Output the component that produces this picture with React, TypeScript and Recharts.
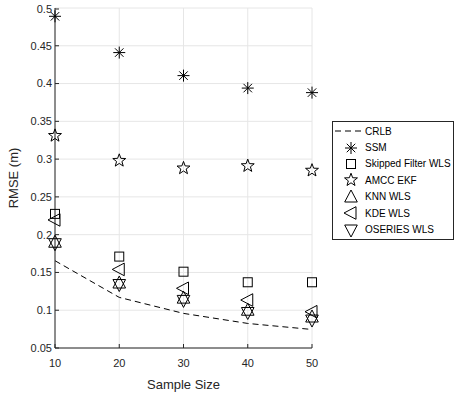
import React from 'react';
import { ComposedChart, Line, Scatter, XAxis, YAxis, CartesianGrid, Legend } from 'recharts';

const sampleSizes = [10, 20, 30, 40, 50];
const crlb = [0.1655, 0.117, 0.0958, 0.0825, 0.0745];
const ssm = [0.489, 0.441, 0.4105, 0.394, 0.388];
const skippedFilterWls = [0.2275, 0.171, 0.151, 0.137, 0.137];
const amccEkf = [0.331, 0.298, 0.288, 0.291, 0.285];
const knnWls = [0.19, 0.136, 0.116, 0.1, 0.091];
const kdeWls = [0.2195, 0.154, 0.129, 0.1135, 0.098];
const oseriesWls = [0.188, 0.134, 0.113, 0.097, 0.087];

const xTicks = [10, 20, 30, 40, 50];
const yTicks = [0.05, 0.1, 0.15, 0.2, 0.25, 0.3, 0.35, 0.4, 0.45, 0.5];

const INK = '#262626';
const FONT = '"Liberation Sans", Arial, Helvetica, sans-serif';

const rows = sampleSizes.map((x, i) => ({
    x,
    crlb: crlb[i],
    ssm: ssm[i],
    skipped: skippedFilterWls[i],
    amcc: amccEkf[i],
    knn: knnWls[i],
    kde: kdeWls[i],
    oseries: oseriesWls[i],
}));

type MarkerKind = 'asterisk' | 'square' | 'star' | 'up' | 'left' | 'down';

const drawMarker = (kind: MarkerKind, cx: number, cy: number) => {
    const common = { fill: 'none', stroke: '#000', strokeWidth: 1 };
    if (kind === 'asterisk') {
        const r = 6;
        const d = r * 0.707;
        return (
            <g stroke="#000" strokeWidth={1}>
                <line x1={cx - r} y1={cy} x2={cx + r} y2={cy} />
                <line x1={cx} y1={cy - r} x2={cx} y2={cy + r} />
                <line x1={cx - d} y1={cy - d} x2={cx + d} y2={cy + d} />
                <line x1={cx - d} y1={cy + d} x2={cx + d} y2={cy - d} />
            </g>
        );
    }
    if (kind === 'square') {
        return <rect x={cx - 4.5} y={cy - 4.5} width={9} height={9} {...common} />;
    }
    if (kind === 'star') {
        const pts: string[] = [];
        for (let k = 0; k < 10; k++) {
            const r = k % 2 === 0 ? 6.8 : 2.8;
            const a = -Math.PI / 2 + (k * Math.PI) / 5;
            pts.push(`${cx + r * Math.cos(a)},${cy + r * Math.sin(a)}`);
        }
        return <polygon points={pts.join(' ')} {...common} />;
    }
    if (kind === 'up') {
        return <polygon points={`${cx},${cy - 7} ${cx - 6.3},${cy + 5} ${cx + 6.3},${cy + 5}`} {...common} />;
    }
    if (kind === 'down') {
        return <polygon points={`${cx},${cy + 7} ${cx - 6.3},${cy - 5} ${cx + 6.3},${cy - 5}`} {...common} />;
    }
    return <polygon points={`${cx - 7},${cy} ${cx + 5},${cy - 6.3} ${cx + 5},${cy + 6.3}`} {...common} />;
};

const markerShape = (kind: MarkerKind) => (props: any) => drawMarker(kind, props.cx, props.cy);

const legendItems: { label: string; kind: MarkerKind | 'line' }[] = [
    { label: 'CRLB', kind: 'line' },
    { label: 'SSM', kind: 'asterisk' },
    { label: 'Skipped Filter WLS', kind: 'square' },
    { label: 'AMCC EKF', kind: 'star' },
    { label: 'KNN WLS', kind: 'up' },
    { label: 'KDE WLS', kind: 'left' },
    { label: 'OSERIES WLS', kind: 'down' },
];

const MatlabLegend = () => (
    <div
        style={{
            border: `1px solid ${INK}`,
            background: '#fff',
            padding: '1px 0',
            fontFamily: FONT,
            fontSize: 10,
            color: '#000',
            boxSizing: 'border-box',
        }}
    >
        {legendItems.map((item) => (
            <div key={item.label} style={{ display: 'flex', alignItems: 'center', height: 16.4 }}>
                <svg width={32} height={16} style={{ flex: 'none' }}>
                    {item.kind === 'line' ? (
                        <line x1={2} y1={8} x2={31} y2={8} stroke="#000" strokeDasharray="6 4" />
                    ) : (
                        drawMarker(item.kind, 18, 8)
                    )}
                </svg>
                <span style={{ whiteSpace: 'nowrap' }}>{item.label}</span>
            </div>
        ))}
    </div>
);

const fmt = (v: number) => String(Number(v.toFixed(2)));

const XTick = (props: any) => {
    const { x, y, payload } = props;
    return (
        <g>
            <line x1={x} y1={y - 11} x2={x} y2={y - 15} stroke={INK} />
            <text x={x} y={y} dy="0.71em" textAnchor="middle" fill={INK} fontSize={11} fontFamily={FONT}>
                {payload.value}
            </text>
        </g>
    );
};

const YTick = (props: any) => {
    const { x, y, payload } = props;
    return (
        <g>
            <line x1={x + 3} y1={y} x2={x + 7} y2={y} stroke={INK} />
            <text x={x} y={y} dy="0.355em" textAnchor="end" fill={INK} fontSize={11} fontFamily={FONT}>
                {fmt(payload.value)}
            </text>
        </g>
    );
};

export default function App() {
    return (
        <div style={{ position: 'absolute', left: 0, top: 0, width: 462, height: 395, background: '#fff' }}>
            <ComposedChart
                width={462}
                height={395}
                data={rows}
                margin={{ top: 8, right: 150, bottom: 0, left: 0 }}
            >
                <CartesianGrid stroke="#e6e6e6" strokeWidth={1} />
                <XAxis
                    dataKey="x"
                    type="number"
                    domain={[10, 50]}
                    ticks={xTicks}
                    height={47}
                    tickSize={0}
                    tickMargin={11}
                    tickLine={false}
                    axisLine={{ stroke: INK }}
                    tick={<XTick />}
                    label={{
                        value: 'Sample Size',
                        position: 'insideBottom',
                        offset: 6,
                        fill: INK,
                        fontSize: 13,
                        fontFamily: FONT,
                    }}
                />
                <YAxis
                    type="number"
                    domain={[0.05, 0.5]}
                    ticks={yTicks}
                    width={55}
                    tickSize={0}
                    tickMargin={3}
                    tickLine={false}
                    axisLine={{ stroke: INK }}
                    tick={<YTick />}
                    label={{
                        value: 'RMSE (m)',
                        angle: -90,
                        position: 'insideLeft',
                        offset: 13,
                        fill: INK,
                        fontSize: 13,
                        fontFamily: FONT,
                        style: { textAnchor: 'middle' },
                    }}
                />
                <Line
                    dataKey="crlb"
                    type="linear"
                    stroke="#000"
                    strokeWidth={1}
                    strokeDasharray="6 4"
                    dot={false}
                    isAnimationActive={false}
                />
                <Scatter dataKey="ssm" shape={markerShape('asterisk')} isAnimationActive={false} />
                <Scatter dataKey="skipped" shape={markerShape('square')} isAnimationActive={false} />
                <Scatter dataKey="amcc" shape={markerShape('star')} isAnimationActive={false} />
                <Scatter dataKey="knn" shape={markerShape('up')} isAnimationActive={false} />
                <Scatter dataKey="kde" shape={markerShape('left')} isAnimationActive={false} />
                <Scatter dataKey="oseries" shape={markerShape('down')} isAnimationActive={false} />
                <Legend
                    layout="horizontal"
                    verticalAlign="middle"
                    align="center"
                    content={<MatlabLegend />}
                    wrapperStyle={{ left: 332, top: 121, width: 122, height: 'auto' }}
                />
            </ComposedChart>
        </div>
    );
}
